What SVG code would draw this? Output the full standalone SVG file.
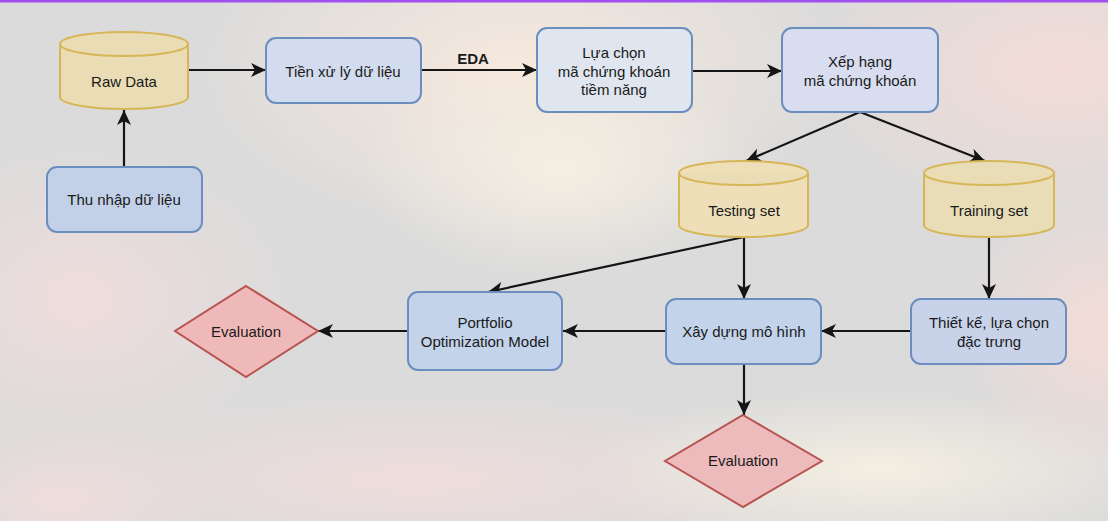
<svg xmlns="http://www.w3.org/2000/svg" width="1108" height="521" viewBox="0 0 1108 521">
<defs>
<radialGradient id="g1" cx="0.5" cy="0.5" r="0.5"><stop offset="0" stop-color="#f7e9de"/><stop offset="1" stop-color="#f7e9de" stop-opacity="0"/></radialGradient>
<radialGradient id="g2" cx="0.5" cy="0.5" r="0.5"><stop offset="0" stop-color="#f4efe2"/><stop offset="1" stop-color="#f4efe2" stop-opacity="0"/></radialGradient>
<radialGradient id="g3" cx="0.5" cy="0.5" r="0.5"><stop offset="0" stop-color="#f3dcd7"/><stop offset="1" stop-color="#f3dcd7" stop-opacity="0"/></radialGradient>
<radialGradient id="g4" cx="0.5" cy="0.5" r="0.5"><stop offset="0" stop-color="#efdcdc"/><stop offset="1" stop-color="#efdcdc" stop-opacity="0"/></radialGradient>
<marker id="arr" viewBox="0 0 15 15" refX="15" refY="7.5" markerWidth="15" markerHeight="15" markerUnits="userSpaceOnUse" orient="auto"><path d="M0,0.5 L15,7.5 L0,14.5 L4,7.5 z" fill="#151515"/></marker>
<style>
.box{stroke:#6c8ebf;stroke-width:2}
.cyl{fill:#eadcb4;stroke:#d6b656;stroke-width:2}
.dia{fill:#f0b9b9;stroke:#b85450;stroke-width:2}
.t{font-family:"Liberation Sans",Arial,sans-serif;font-size:15px;fill:#1a1a1a;text-anchor:middle}
.b{font-weight:bold}
.c{stroke:#151515;stroke-width:2.2;fill:none;marker-end:url(#arr)}
</style>
</defs>
<g id="background">
<rect x="0" y="0" width="1108" height="521" fill="#dbdbdb"/>
<ellipse cx="520" cy="70" rx="330" ry="170" fill="url(#g1)"/>
<ellipse cx="560" cy="170" rx="200" ry="110" fill="url(#g2)"/>
<ellipse cx="1060" cy="70" rx="260" ry="150" fill="url(#g3)"/>
<ellipse cx="80" cy="300" rx="220" ry="160" fill="url(#g4)"/>
<ellipse cx="420" cy="480" rx="420" ry="90" fill="url(#g4)"/>
<ellipse cx="880" cy="470" rx="300" ry="80" fill="url(#g2)"/>
<ellipse cx="1100" cy="330" rx="140" ry="150" fill="url(#g3)"/>
<ellipse cx="60" cy="500" rx="160" ry="80" fill="url(#g4)"/>
<rect x="0" y="0" width="1108" height="2.5" fill="#a24ff0"/>
</g>
<g id="connectors">
<line class="c" x1="124" y1="167" x2="124" y2="110"/>
<line class="c" x1="188" y1="70" x2="266" y2="70"/>
<line class="c" x1="421" y1="70" x2="537" y2="70"/>
<text class="t b" x="473" y="64">EDA</text>
<line class="c" x1="692" y1="71" x2="782" y2="71"/>
<line class="c" x1="860" y1="112" x2="746" y2="161"/>
<line class="c" x1="860" y1="112" x2="985" y2="161"/>
<line class="c" x1="744" y1="237" x2="744" y2="299"/>
<line class="c" x1="744" y1="237" x2="488" y2="292"/>
<line class="c" x1="989" y1="237" x2="989" y2="299"/>
<line class="c" x1="911" y1="331" x2="821" y2="331"/>
<line class="c" x1="666" y1="331" x2="563" y2="331"/>
<line class="c" x1="408" y1="331" x2="318" y2="331"/>
<line class="c" x1="744" y1="364" x2="744" y2="415"/>
</g>
<g id="raw-data">
<path class="cyl" d="M60,44 L60,97 A64,12 0 0 0 188,97 L188,44 A64,12 0 0 0 60,44 Z"/>
<path class="cyl" d="M60,44 A64,12 0 0 0 188,44" fill="none"/>
<text class="t" x="124" y="87">Raw Data</text>
</g>
<g id="thu-nhap">
<rect class="box" x="47" y="167" width="155" height="65" rx="10" fill="#c2d1e8"/>
<text class="t" x="124" y="205">Thu nhập dữ liệu</text>
</g>
<g id="tien-xu-ly">
<rect class="box" x="266" y="38" width="155" height="65" rx="10" fill="#d3dcee"/>
<text class="t" x="343" y="77">Tiền xử lý dữ liệu</text>
</g>
<g id="lua-chon">
<rect class="box" x="537" y="28" width="155" height="84" rx="10" fill="#dfe6ef"/>
<text class="t" x="614" y="58">Lựa chọn</text>
<text class="t" x="614" y="77">mã chứng khoán</text>
<text class="t" x="614" y="95">tiềm năng</text>
</g>
<g id="xep-hang">
<rect class="box" x="782" y="28" width="156" height="84" rx="10" fill="#d9ddf0"/>
<text class="t" x="860" y="67">Xếp hạng</text>
<text class="t" x="860" y="86">mã chứng khoán</text>
</g>
<g id="testing-set">
<path class="cyl" d="M679,173 L679,225 A64.5,12 0 0 0 808,225 L808,173 A64.5,12 0 0 0 679,173 Z" style="fill:#eedfb8"/>
<path class="cyl" d="M679,173 A64.5,12 0 0 0 808,173" fill="none"/>
<text class="t" x="744" y="216">Testing set</text>
</g>
<g id="training-set">
<path class="cyl" d="M924,173 L924,225 A65,12 0 0 0 1054,225 L1054,173 A65,12 0 0 0 924,173 Z" style="fill:#e9ddb8"/>
<path class="cyl" d="M924,173 A65,12 0 0 0 1054,173" fill="none"/>
<text class="t" x="989" y="216">Training set</text>
</g>
<g id="thiet-ke">
<rect class="box" x="911" y="299" width="155" height="65" rx="10" fill="#c8d3ea"/>
<text class="t" x="989" y="328">Thiết kế, lựa chọn</text>
<text class="t" x="989" y="347">đặc trưng</text>
</g>
<g id="xay-dung">
<rect class="box" x="666" y="299" width="155" height="65" rx="10" fill="#c3d3ea"/>
<text class="t" x="744" y="337">Xây dựng mô hình</text>
</g>
<g id="portfolio">
<rect class="box" x="408" y="292" width="154" height="78" rx="10" fill="#c3d3ea"/>
<text class="t" x="485" y="328">Portfolio</text>
<text class="t" x="485" y="347">Optimization Model</text>
</g>
<g id="evaluation-1">
<polygon class="dia" points="246,286 318,331 246,377 175,331"/>
<text class="t" x="246" y="337">Evaluation</text>
</g>
<g id="evaluation-2">
<polygon class="dia" points="743,415 822,461 743,507 665,461" style="fill:#eebbbd"/>
<text class="t" x="743" y="466">Evaluation</text>
</g>
</svg>
